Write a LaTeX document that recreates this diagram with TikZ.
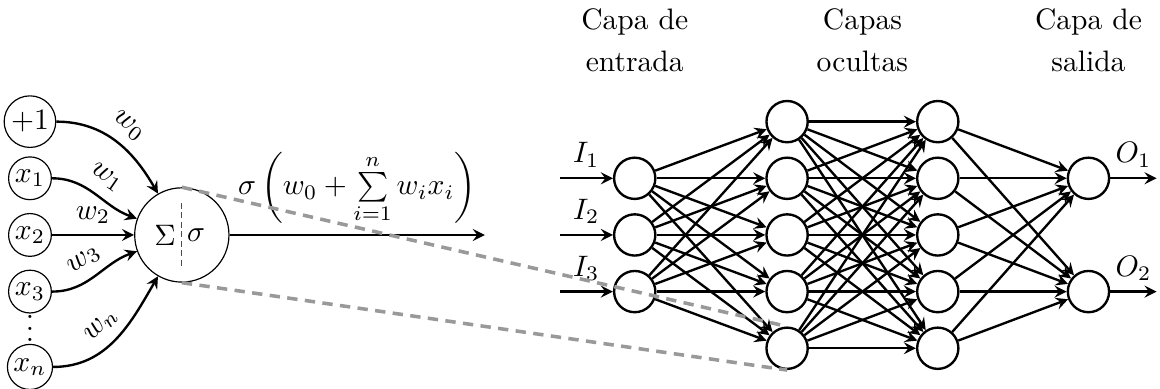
\documentclass[tikz,border=0pt]{standalone}
\usepackage{amsmath,amsfonts}

\begin{document}
\begin{tikzpicture}[>=stealth,
	neuron/.style={circle,draw,thick,minimum size=0.49cm,inner sep=0pt},
	entrada/.style={circle,draw,thin,inner sep=1pt},
	capa/.style={align=center},
	sombra/.style={very thick,black!40,dash pattern=on 3.5pt off 2.5pt}]
	\useasboundingbox (0,0) rectangle (13.78,4.62);
%
	% perceptron
	\node[circle,draw,thin,minimum size=1.12cm] (p) at (2.16,1.829) {};
	\draw[thin,black!70,dash pattern=on 2pt off 1.2pt] ([yshift=0.38cm]p.center) -- ([yshift=-0.38cm]p.center);
	\node (suma) at ([xshift=-0.2cm]p.center) {$\Sigma$};
	\node (act) at ([xshift=0.17cm]p.center) {$\sigma$};
%
	\node[entrada] (x0) at (0.356,3.175) {$+1$};
	\node[entrada] (x1) at (0.356,2.502) {$x_1$};
	\node[entrada] (x2) at (0.356,1.829) {$x_2$};
	\node[entrada] (x3) at (0.356,1.156) {$x_3$};
	\node[inner sep=0pt] (dots) at (0.356,0.718) {\vbox{\baselineskip4pt\lineskiplimit0pt\hbox{.}\hbox{.}\hbox{.}}};
	\node[entrada] (xn) at (0.356,0.261) {$x_n$};
%
	\draw[->,thick] (x0) to[out=0,in=120] node[sloped,above] {$w_0$} (p);
	\draw[->,thick] (x1) to[out=0,in=160] node[sloped,above] {$w_1$} (p);
	\draw[->,thick] (x2) -- node[above] {$w_2$} (p);
	\draw[->,thick] (x3) to[out=0,in=200] node[sloped,above] {$w_3$} (p);
	\draw[->,thick] (xn) to[out=0,in=240] node[sloped,above] {$w_n$} (p);
%
	\coordinate (y) at (5.76,1.829);
	\draw[->,thick] (p) -- node[above] {$\sigma\left(w_0+\sum\limits_{i=1}^{n} w_i x_i\right)$} (y);
%
	% red
	\foreach \i in {1,2,3}
		\node[neuron] (I\i) at (7.54,{1.829+(2-\i)*0.673}) {};
	\foreach \j in {1,...,5}
		\node[neuron] (H\j) at (9.35,{1.829+(3-\j)*0.673}) {};
	\foreach \j in {1,...,5}
		\node[neuron] (G\j) at (11.14,{1.829+(3-\j)*0.673}) {};
	\foreach \k in {1,2}
		\node[neuron] (O\k) at (12.93,{1.829+(3-2*\k)*0.673}) {};
%
	\foreach \i in {1,2,3} {
		\coordinate (e\i) at (6.65,{1.829+(2-\i)*0.673});
		\draw[->,thick] (e\i) -- node[above] {$I_\i$} (I\i);
	}
	\foreach \k in {1,2} {
		\coordinate (s\k) at (13.74,{1.829+(3-2*\k)*0.673});
		\draw[->,thick] (O\k) -- node[above] {$O_\k$} (s\k);
	}
%
	\foreach \i in {1,2,3}
		\foreach \j in {1,...,5}
			\draw[->,thick] (I\i) -- (H\j);
	\foreach \i in {1,...,5}
		\foreach \j in {1,...,5}
			\draw[->,thick] (H\i) -- (G\j);
	\foreach \i in {1,...,5}
		\foreach \k in {1,2}
			\draw[->,thick] (G\i) -- (O\k);
%
	\node[capa] (tIn) at (7.54,4.14) {Capa de\\[2pt]entrada};
	\node[capa] (tHid) at (10.245,4.14) {Capas\\[2pt]ocultas};
	\node[capa] (tOut) at (12.93,4.14) {Capa de\\[2pt]salida};
%
	\draw[sombra] (p.north) -- (H5.north);
	\draw[sombra] (p.south) -- (H5.south);
\end{tikzpicture}
\end{document}
